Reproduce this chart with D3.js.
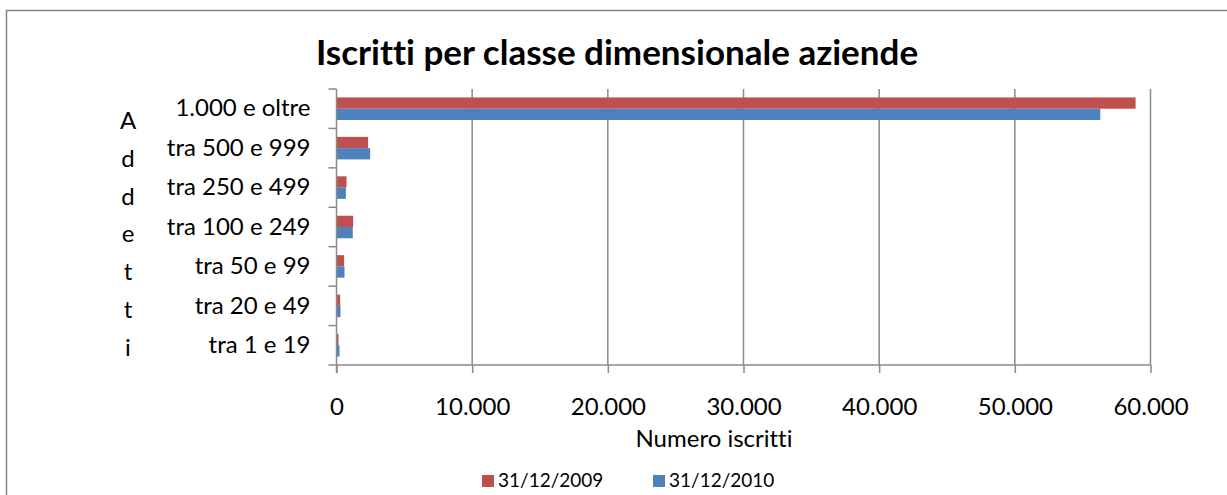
<!DOCTYPE html>
<html>
<head>
<meta charset="utf-8">
<script src="https://cdn.jsdelivr.net/npm/d3@7"></script>
<style>
  body { margin: 0; background: #fff; }
  svg { display: block; font-family: Lato, "DejaVu Sans", sans-serif; font-variant-ligatures: none; }
</style>
</head>
<body>
<div id="chart"></div>
<script>
// data
const categories = ["1.000 e oltre", "tra 500 e 999", "tra 250 e 499", "tra 100 e 249", "tra 50 e 99", "tra 20 e 49", "tra 1 e 19"];
const seriesNames = ["31/12/2009", "31/12/2010"];
const iscritti2009 = [58900, 2330, 740, 1230, 560, 270, 150];
const iscritti2010 = [56300, 2480, 690, 1200, 590, 295, 220];
const xTicks = [0, 10000, 20000, 30000, 40000, 50000, 60000];
const yTitleLetters = ["A", "d", "d", "e", "t", "t", "i"];

const colors = { "31/12/2009": "#c0504d", "31/12/2010": "#4f81bd" };
const gridColor = "#8a8a8a";

const W = 1227, H = 495;
const plot = { left: 336.5, right: 1150.5, top: 89, bottom: 365 };

const data = categories.map((c, i) => ({
  cat: c,
  values: [
    { name: seriesNames[0], value: iscritti2009[i] },
    { name: seriesNames[1], value: iscritti2010[i] }
  ]
}));

const svg = d3.select("#chart")
  .append("svg")
  .attr("width", W)
  .attr("height", H);

// outer chart frame
svg.append("rect")
  .attr("x", 6.5)
  .attr("y", 10.5)
  .attr("width", W + 10)
  .attr("height", H + 10)
  .attr("fill", "none")
  .attr("stroke", "#888")
  .attr("stroke-width", 1.5);

const x = d3.scaleLinear()
  .domain([0, 60000])
  .range([plot.left, plot.right]);

const y = d3.scaleBand()
  .domain(categories)
  .range([plot.top, plot.bottom])
  .padding(0);

// gap width 150% -> 0.75 bar on each side
const ySub = d3.scaleBand()
  .domain(seriesNames)
  .range([0, y.bandwidth()])
  .paddingInner(0)
  .paddingOuter(0.75);

const itFormat = d3.formatLocale({ decimal: ",", thousands: ".", grouping: [3], currency: ["", " €"] }).format(",");

// vertical gridlines
svg.append("g")
  .selectAll("line")
  .data(xTicks.filter(d => d > 0))
  .join("line")
  .attr("x1", d => x(d))
  .attr("x2", d => x(d))
  .attr("y1", plot.top)
  .attr("y2", plot.bottom)
  .attr("stroke", gridColor)
  .attr("stroke-width", 1.5);

// bars
const groups = svg.append("g")
  .selectAll("g")
  .data(data)
  .join("g")
  .attr("transform", d => `translate(0,${y(d.cat)})`);

groups.selectAll("rect")
  .data(d => d.values)
  .join("rect")
  .attr("x", x(0))
  .attr("y", d => ySub(d.name))
  .attr("width", d => x(d.value) - x(0))
  .attr("height", ySub.bandwidth())
  .attr("fill", d => colors[d.name]);

// bottom axis
const xAxis = svg.append("g")
  .attr("transform", `translate(0,${plot.bottom})`)
  .call(d3.axisBottom(x).tickValues(xTicks).tickFormat(itFormat).tickSize(8).tickPadding(25));
xAxis.select(".domain").remove();
xAxis.selectAll(".tick line").attr("stroke", gridColor).attr("stroke-width", 1.5);
xAxis.selectAll("text").attr("fill", "#000").style("font-size", "24px").style("font-family", "Lato");
xAxis.append("line")
  .attr("x1", plot.left - 8)
  .attr("x2", plot.right)
  .attr("y1", 0)
  .attr("y2", 0)
  .attr("stroke", gridColor)
  .attr("stroke-width", 1.5);

// left axis: labels centred on bands, tick marks between categories
const yAxis = svg.append("g")
  .attr("transform", `translate(${plot.left},0)`)
  .call(d3.axisLeft(y).tickSize(0).tickPadding(26));
yAxis.select(".domain").remove();
yAxis.selectAll("text").attr("fill", "#000").style("font-size", "24px").style("font-family", "Lato");

svg.append("line")
  .attr("x1", plot.left)
  .attr("x2", plot.left)
  .attr("y1", plot.top)
  .attr("y2", plot.bottom + 8)
  .attr("stroke", gridColor)
  .attr("stroke-width", 1.5);

svg.append("g")
  .selectAll("line")
  .data(categories)
  .join("line")
  .attr("x1", plot.left - 8)
  .attr("x2", plot.left)
  .attr("y1", d => y(d))
  .attr("y2", d => y(d))
  .attr("stroke", gridColor)
  .attr("stroke-width", 1.5);

// y title, one letter per line
svg.append("g")
  .selectAll("text")
  .data(yTitleLetters)
  .join("text")
  .attr("x", 128)
  .attr("y", (d, i) => 129 + i * 37.8)
  .attr("text-anchor", "middle")
  .style("font-size", "24px")
  .text(d => d);

// title
svg.append("text")
  .attr("x", 617)
  .attr("y", 65)
  .attr("text-anchor", "middle")
  .style("font-size", "35px")
  .style("font-weight", "bold")
  .text("Iscritti per classe dimensionale aziende");

// x title
svg.append("text")
  .attr("x", 714)
  .attr("y", 447)
  .attr("text-anchor", "middle")
  .style("font-size", "24px")
  .text("Numero iscritti");

// legend
const legendX = [482, 653];
const legend = svg.append("g")
  .selectAll("g")
  .data(seriesNames)
  .join("g")
  .attr("transform", (d, i) => `translate(${legendX[i]},475)`);

legend.append("rect")
  .attr("width", 12)
  .attr("height", 12)
  .attr("fill", d => colors[d]);

legend.append("text")
  .attr("x", 16)
  .attr("y", 12)
  .style("font-size", "19px")
  .text(d => d);
</script>
</body>
</html>
